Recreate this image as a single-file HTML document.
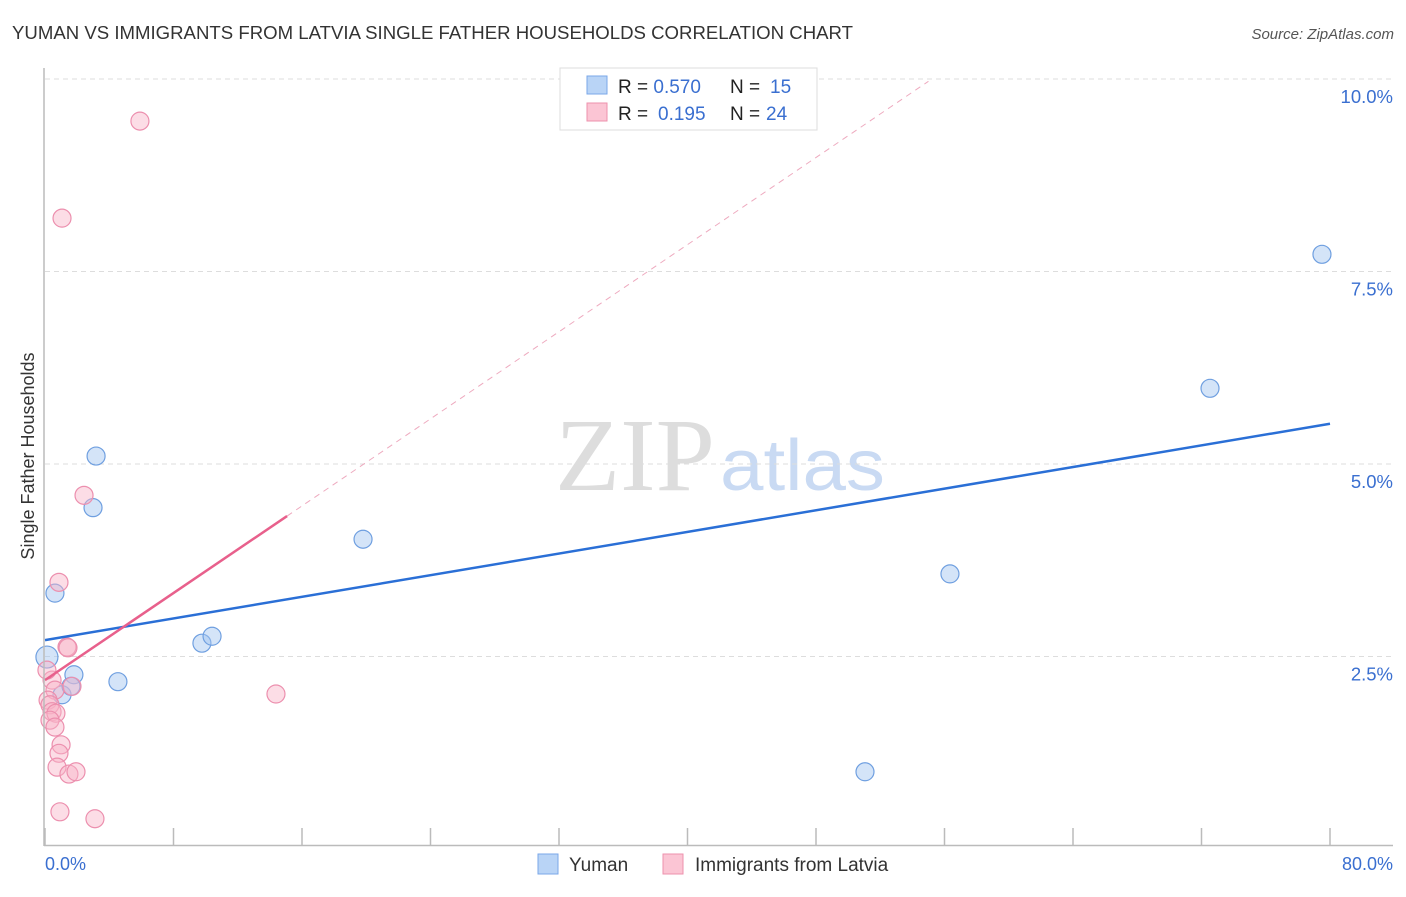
<!DOCTYPE html>
<html><head><meta charset="utf-8"><style>
body{margin:0;background:#fff;font-family:"Liberation Sans",sans-serif;}
</style></head><body>
<svg id="c" width="1406" height="892" xmlns="http://www.w3.org/2000/svg">
<text x="12" y="39" font-size="18.5" fill="#333" textLength="841" lengthAdjust="spacingAndGlyphs">YUMAN VS IMMIGRANTS FROM LATVIA SINGLE FATHER HOUSEHOLDS CORRELATION CHART</text>
<text x="1394" y="39" font-size="15" fill="#555" font-style="italic" text-anchor="end">Source: ZipAtlas.com</text>
<text x="555" y="490" font-size="104" fill="#ddd" textLength="160" lengthAdjust="spacingAndGlyphs" font-family="Liberation Serif">ZIP</text>
<text x="720" y="490" font-size="72" fill="#c9daf3" textLength="165" lengthAdjust="spacingAndGlyphs">atlas</text>
<text transform="translate(34,456) rotate(-90)" font-size="18" fill="#333" text-anchor="middle">Single Father Households</text>
<g id="grid"></g><g id="ticks"></g><g id="pts"></g><g id="lines"></g>
<line x1="44" y1="68" x2="44" y2="846" stroke="#bbb" stroke-width="1.5"/>
<line x1="44" y1="845.5" x2="1393" y2="845.5" stroke="#bbb" stroke-width="1.5"/>
<text x="45" y="870" font-size="18" fill="#3a6fd0">0.0%</text>
<text x="1393" y="870" font-size="18" fill="#3a6fd0" text-anchor="end">80.0%</text>
<g>
<rect x="560" y="68" width="257" height="62" fill="#fff" stroke="#ddd"/>
<rect x="587" y="76" width="20" height="18" fill="#b9d4f6" stroke="#7aa7e8"/>
<rect x="587" y="103" width="20" height="18" fill="#fbc5d4" stroke="#ee91ad"/>
<text x="618" y="93" font-size="19" fill="#222">R = <tspan fill="#3a6fd0">0.570</tspan><tspan x="730">N = </tspan><tspan fill="#3a6fd0" x="770">15</tspan></text>
<text x="618" y="120" font-size="19" fill="#222">R = <tspan fill="#3a6fd0" x="658">0.195</tspan><tspan x="730">N = </tspan><tspan fill="#3a6fd0" x="766">24</tspan></text>
</g>
<g>
<rect x="538" y="854" width="20" height="20" fill="#b9d4f6" stroke="#7aa7e8"/>
<text x="569" y="871" font-size="19" fill="#333">Yuman</text>
<rect x="663" y="854" width="20" height="20" fill="#fbc5d4" stroke="#ee91ad"/>
<text x="695" y="871" font-size="19" fill="#333">Immigrants from Latvia</text>
</g>
</svg>
<script>
const yTicks=[2.5,5.0,7.5,10.0];
const xTicks=[0,8,16,24,32,40,48,56,64,72,80];
const yumanX=[0.12,0.62,3.18,2.99,1.06,1.8,1.62,4.54,9.77,10.4,19.8,51.05,56.34,72.53,79.5];
const yumanY=[2.48,3.31,5.09,4.42,1.99,2.25,2.10,2.16,2.66,2.75,4.01,0.99,3.56,5.97,7.71];
const latviaX=[5.91,1.06,2.43,0.87,1.37,1.43,14.38,0.44,0.62,1.68,0.19,0.31,0.44,0.68,0.31,0.62,1.0,0.87,0.75,1.49,1.93,0.93,3.11,0.12];
const latviaY=[9.44,8.18,4.58,3.45,2.61,2.60,2.0,2.18,2.05,2.10,1.92,1.86,1.77,1.75,1.66,1.57,1.34,1.23,1.05,0.96,0.99,0.47,0.38,2.31];
const yumanFit=[2.70,5.51];
const latviaFit=[2.18,0.1414];
const NS='http://www.w3.org/2000/svg';
const X=v=>45+v/80*1285, Y=v=>848-77*v;
function mk(t,a,p){const e=document.createElementNS(NS,t);for(const k in a)e.setAttribute(k,a[k]);document.getElementById(p).appendChild(e);return e;}
yTicks.forEach(t=>{
 const l=mk('line',{x1:45,x2:1393,y1:Y(t)+1,y2:Y(t)+1,stroke:'#ddd','stroke-dasharray':'5,4'},'grid');
 
 
 const tx=mk('text',{x:1393,y:Y(t)+25,'font-size':18.5,fill:'#3a6fd0','text-anchor':'end'},'grid');
 tx.textContent=t.toFixed(1)+'%';
 
 
});
xTicks.forEach(t=>{
 const l=mk('line',{x1:X(t),x2:X(t),y1:828,y2:845,stroke:'#bbb','stroke-width':1.5},'ticks');
 
 
});
yumanX.forEach((v,i)=>{
 const c=mk('circle',{cx:X(v),cy:Y(yumanY[i]),r:i==0?11:9,fill:'rgba(160,195,240,0.45)',stroke:'#6f9fe0','stroke-width':1.2},'pts');
 
 
});
latviaX.forEach((v,i)=>{
 const c=mk('circle',{cx:X(v),cy:Y(latviaY[i]),r:9,fill:'rgba(248,180,200,0.45)',stroke:'#ec8fae','stroke-width':1.2},'pts');
 
 
});
let l=mk('line',{x1:X(0),y1:Y(yumanFit[0]),x2:X(80),y2:Y(yumanFit[1]),stroke:'#2a6fd6','stroke-width':2.5},'lines');


l=mk('line',{x1:X(15.07),y1:Y(latviaFit[0]+latviaFit[1]*15.07),x2:X(55),y2:Y(latviaFit[0]+latviaFit[1]*55),stroke:'#eeaabf','stroke-width':1,'stroke-dasharray':'6,5'},'lines');


l=mk('line',{x1:X(0),y1:Y(latviaFit[0]),x2:X(15.07),y2:Y(latviaFit[0]+latviaFit[1]*15.07),stroke:'#e8608c','stroke-width':2.5},'lines');


</script>
</body></html>
